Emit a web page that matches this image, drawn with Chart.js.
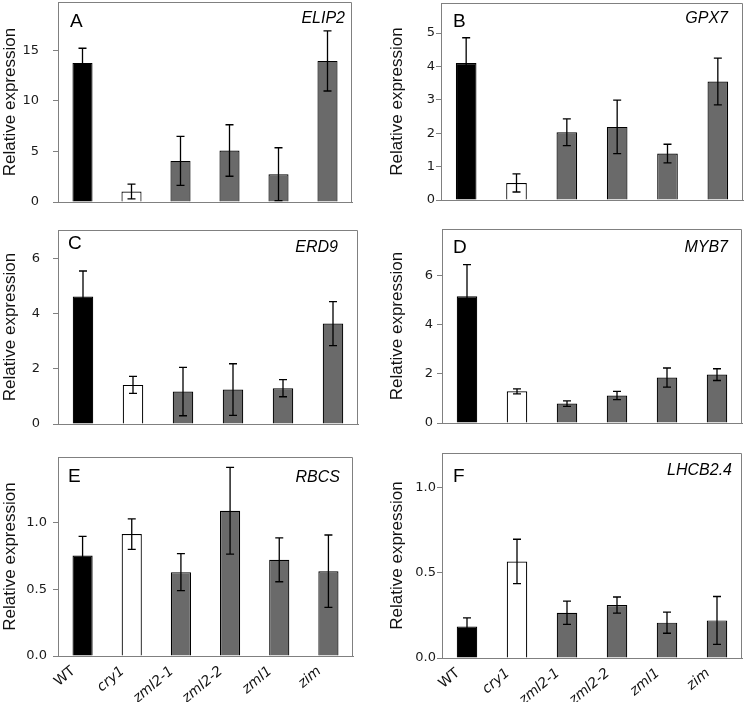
<!DOCTYPE html>
<html><head><meta charset="utf-8">
<script src="https://cdn.jsdelivr.net/npm/chart.js@4"></script>
<style>
html,body{margin:0;padding:0;background:#fff;}
#wrap{position:relative;width:747px;height:703px;overflow:hidden;}
#wrap canvas{position:absolute;left:0;top:0;}
</style></head><body><div id="wrap"></div>
<script>
// ---- data ----
const categories = ['WT', 'cry1', 'zml2-1', 'zml2-2', 'zml1', 'zim'];
const panelLetters = ['A', 'B', 'C', 'D', 'E', 'F'];
const geneNames = ['ELIP2', 'GPX7', 'ERD9', 'MYB7', 'RBCS', 'LHCB2.4'];
const yAxisTitle = 'Relative expression';

const elip2Mean = [13.77, 1.03, 4.07, 5.10, 2.75, 13.97];
const elip2Err  = [1.45, 0.73, 2.43, 2.55, 2.62, 2.98];
const gpx7Mean  = [4.10, 0.51, 2.03, 2.19, 1.39, 3.55];
const gpx7Err   = [0.76, 0.27, 0.40, 0.80, 0.28, 0.70];
const erd9Mean  = [4.63, 1.42, 1.18, 1.25, 1.30, 3.65];
const erd9Err   = [0.93, 0.31, 0.88, 0.94, 0.31, 0.80];
const myb7Mean  = [5.16, 1.29, 0.79, 1.12, 1.85, 1.97];
const myb7Err   = [1.29, 0.10, 0.11, 0.17, 0.39, 0.24];
const rbcsMean  = [0.753, 0.913, 0.628, 1.088, 0.720, 0.635];
const rbcsErr   = [0.142, 0.114, 0.139, 0.325, 0.164, 0.271];
const lhcbMean  = [0.185, 0.565, 0.265, 0.310, 0.207, 0.220];
const lhcbErr   = [0.050, 0.130, 0.068, 0.047, 0.062, 0.140];

const yMax  = [19.8, 5.9, 7.05, 7.9, 1.49, 1.2];
const yStep = [5, 1, 2, 2, 0.5, 0.5];
const yDecimals = [0, 0, 0, 0, 1, 1];

const meanSeries = [elip2Mean, gpx7Mean, erd9Mean, myb7Mean, rbcsMean, lhcbMean];
const errSeries  = [elip2Err, gpx7Err, erd9Err, myb7Err, rbcsErr, lhcbErr];

// ---- styling / layout ----
const barColors = ['#000000', '#ffffff', '#6a6a6a', '#6a6a6a', '#6a6a6a', '#6a6a6a'];
const W = 747, H = 703;
const panelLayout = [
  {l:58,  r:352, t:2,   b:202, axisLeft:0,   tickPad:14, xH:0,  letterDx:12, letterDy:25, geneDx:7,  geneDy:21},
  {l:441, r:743, t:3,   b:200, axisLeft:387, tickPad:1,  xH:0,  letterDx:12, letterDy:24, geneDx:15, geneDy:20},
  {l:58,  r:358, t:230, b:424, axisLeft:0,   tickPad:13, xH:0,  letterDx:10, letterDy:19, geneDx:20, geneDy:22},
  {l:442, r:742, t:229, b:423, axisLeft:387, tickPad:4,  xH:0,  letterDx:11, letterDy:24, geneDx:14, geneDy:23},
  {l:58,  r:353, t:457, b:656, axisLeft:0,   tickPad:6,  xH:46, letterDx:10, letterDy:25, geneDx:13, geneDy:25},
  {l:442, r:742, t:453, b:658, axisLeft:387, tickPad:1,  xH:44, letterDx:11, letterDy:29, geneDx:10, geneDy:22}
];
const showXLabels = [false, false, false, false, true, true];

const errorBarPlugin = {
  id: 'errorBars',
  afterDatasetsDraw(chart) {
    const ys = chart.scales.y;
    const ds = chart.data.datasets[0];
    const meta = chart.getDatasetMeta(0);
    const ctx = chart.ctx;
    ctx.save();
    ctx.strokeStyle = '#000';
    ctx.lineWidth = 1.3;
    meta.data.forEach((bar, i) => {
      const m = ds.data[i], e = ds.errors[i];
      const x = bar.x;
      const yt = ys.getPixelForValue(m + e);
      const yb = ys.getPixelForValue(m - e);
      ctx.beginPath();
      ctx.moveTo(x, yt); ctx.lineTo(x, yb);
      ctx.moveTo(x - 4, yt); ctx.lineTo(x + 4, yt);
      ctx.moveTo(x - 4, yb); ctx.lineTo(x + 4, yb);
      ctx.stroke();
    });
    ctx.restore();
  }
};

const wrap = document.getElementById('wrap');

for (let i = 0; i < 6; i++) {
  const L = panelLayout[i];
  const cv = document.createElement('canvas');
  cv.width = W; cv.height = H;
  cv.style.width = W + 'px'; cv.style.height = H + 'px';
  wrap.appendChild(cv);

  const decoPlugin = {
    id: 'deco',
    afterDraw(chart) {
      const a = chart.chartArea;
      const ctx = chart.ctx;
      ctx.save();
      ctx.strokeStyle = '#808080';
      ctx.lineWidth = 1;
      ctx.beginPath();
      const top = Math.round(a.top) + 0.5, right = Math.round(a.right) - 0.5;
      ctx.moveTo(a.left, top); ctx.lineTo(right, top); ctx.lineTo(right, a.bottom);
      ctx.stroke();
      ctx.fillStyle = '#000';
      ctx.textBaseline = 'alphabetic';
      ctx.textAlign = 'left';
      ctx.font = '19px "Liberation Sans", Arial, sans-serif';
      ctx.fillText(panelLetters[i], a.left + L.letterDx, a.top + L.letterDy);
      ctx.textAlign = 'right';
      ctx.font = 'italic 16px "Liberation Sans", Arial, sans-serif';
      ctx.fillText(geneNames[i], a.right - L.geneDx, a.top + L.geneDy);
      ctx.restore();
    }
  };

  new Chart(cv, {
    type: 'bar',
    data: {
      labels: categories,
      datasets: [{
        data: meanSeries[i],
        errors: errSeries[i],
        backgroundColor: barColors,
        borderColor: '#000',
        borderWidth: 1.2,
        barPercentage: 0.41,
        categoryPercentage: 1
      }]
    },
    options: {
      responsive: false,
      animation: false,
      devicePixelRatio: 1,
      events: [],
      layout: {padding: {left: L.axisLeft, right: W - L.r, top: L.t, bottom: H - L.b - L.xH}},
      plugins: {legend: {display: false}, tooltip: {enabled: false}},
      scales: {
        x: {
          type: 'category',
          offset: true,
          grid: {display: false},
          border: {display: true, color: '#808080', width: 1},
          ticks: {
            display: showXLabels[i],
            autoSkip: false,
            minRotation: 40,
            maxRotation: 40,
            padding: -1,
            labelOffset: -9,
            color: '#111',
            font: (c) => ({family: 'DejaVu Sans', size: 14, style: c.index === 0 ? 'normal' : 'italic'})
          },
          afterFit(s) { s.height = L.xH; s.paddingLeft = 0; s.paddingRight = 0; }
        },
        y: {
          min: 0,
          max: yMax[i],
          ticks: {
            stepSize: yStep[i],
            includeBounds: false,
            padding: L.tickPad,
            color: '#1a1a1a',
            font: {family: 'DejaVu Sans', size: 13},
            callback: (v) => Number(v).toFixed(yDecimals[i])
          },
          grid: {display: true, drawOnChartArea: false, drawTicks: true, tickLength: 5, color: '#808080', lineWidth: 1},
          border: {display: true, color: '#808080', width: 1},
          title: {
            display: true,
            text: yAxisTitle,
            color: '#111',
            font: {family: 'Liberation Sans', size: 17},
            padding: {top: 0, bottom: 0}
          },
          afterFit(s) { s.width = L.l - L.axisLeft; s.paddingTop = 0; s.paddingBottom = 0; }
        }
      }
    },
    plugins: [errorBarPlugin, decoPlugin]
  });
}
</script>
</body></html>
